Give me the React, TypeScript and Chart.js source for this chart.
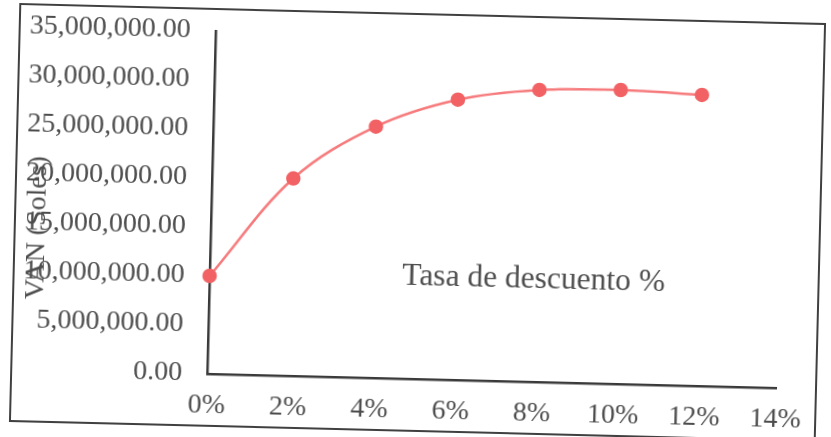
import React, { useEffect, useRef } from 'react';
import { Chart, registerables } from 'chart.js';

Chart.register(...registerables);

// ---- Data ----
const rates = [0, 2, 4, 6, 8, 10, 12];
const vanValues = [10000000, 20150000, 25650000, 28600000, 29800000, 30000000, 29700000];
const xTickLabels = ['0%', '2%', '4%', '6%', '8%', '10%', '12%', '14%'];
const yTickLabels = [
  '0.00',
  '5,000,000.00',
  '10,000,000.00',
  '15,000,000.00',
  '20,000,000.00',
  '25,000,000.00',
  '30,000,000.00',
  '35,000,000.00',
];
const yAxisTitle = 'VAN (Soles)';
const xAxisTitle = 'Tasa de descuento %';

const FONT = '"Liberation Serif", "Times New Roman", serif';
const TEXT_COLOR = '#4d4d4d';
const AXIS_COLOR = '#3a3a3a';

const freeTextPlugin = {
  id: 'freeText',
  afterDraw(chart: any) {
    const ctx = chart.ctx;
    ctx.save();
    ctx.fillStyle = TEXT_COLOR;
    ctx.textAlign = 'center';
    ctx.textBaseline = 'middle';
    // y-axis title (overlapping the tick labels, as in the original)
    ctx.font = `28px ${FONT}`;
    ctx.save();
    ctx.translate(22, 222);
    ctx.rotate(-Math.PI / 2);
    ctx.fillText(yAxisTitle, 0, 0);
    ctx.restore();
    // x-axis title placed inside the plot
    ctx.font = `31.5px ${FONT}`;
    ctx.fillText(xAxisTitle, 519, 262);
    ctx.restore();
  },
};

export default function App() {
  const canvasRef = useRef<HTMLCanvasElement | null>(null);

  useEffect(() => {
    if (!canvasRef.current) return;
    const chart = new Chart(canvasRef.current, {
      type: 'line',
      data: {
        datasets: [
          {
            label: 'VAN',
            data: rates.map((r, i) => ({ x: r, y: vanValues[i] })),
            borderColor: 'rgb(246,122,124)',
            backgroundColor: 'rgb(242,98,100)',
            pointBackgroundColor: 'rgb(242,98,100)',
            pointBorderColor: 'rgb(242,98,100)',
            pointRadius: 6,
            borderWidth: 2.5,
            tension: 0.35,
            clip: false as any,
          },
        ],
      },
      options: {
        animation: false,
        responsive: false,
        maintainAspectRatio: false,
        layout: { padding: { left: 0, top: 21, right: 39, bottom: 0 } },
        plugins: {
          legend: { display: false },
          tooltip: { enabled: false },
          title: { display: false },
        },
        scales: {
          x: {
            type: 'linear',
            min: 0,
            max: 14,
            grid: { display: false, drawTicks: false },
            border: { display: true, color: AXIS_COLOR, width: 2.5 },
            ticks: {
              stepSize: 2,
              autoSkip: false,
              maxRotation: 0,
              padding: 15,
              color: TEXT_COLOR,
              font: { family: FONT, size: 28 },
              callback: (_v: any, i: number) => xTickLabels[i],
            },
            afterFit: (scale: any) => {
              scale.height = 51;
              scale.paddingLeft = 0;
              scale.paddingRight = 0;
            },
          },
          y: {
            type: 'linear',
            min: 0,
            max: 35000000,
            grid: { display: false, drawTicks: false },
            border: { display: true, color: AXIS_COLOR, width: 2.5 },
            ticks: {
              stepSize: 5000000,
              autoSkip: false,
              padding: 25,
              color: TEXT_COLOR,
              font: { family: FONT, size: 28 },
              callback: (_v: any, i: number) => yTickLabels[i],
            },
            afterFit: (scale: any) => {
              scale.width = 195;
              scale.paddingTop = 17;
              scale.paddingBottom = 0;
            },
          },
        },
      },
      plugins: [freeTextPlugin],
    });
    return () => chart.destroy();
  }, []);

  return (
    <div
      style={{
        position: 'absolute',
        left: 0,
        top: 0,
        width: 831,
        height: 437,
        overflow: 'hidden',
        background: '#ffffff',
      }}
    >
      <div
        style={{
          position: 'absolute',
          left: 14,
          top: 13,
          width: 807,
          height: 419,
          boxSizing: 'border-box',
          border: '2px solid #404040',
          background: '#ffffff',
          transform: 'rotate(1.42deg)',
        }}
      >
        <canvas ref={canvasRef} width={803} height={415} style={{ display: 'block' }} />
      </div>
    </div>
  );
}
